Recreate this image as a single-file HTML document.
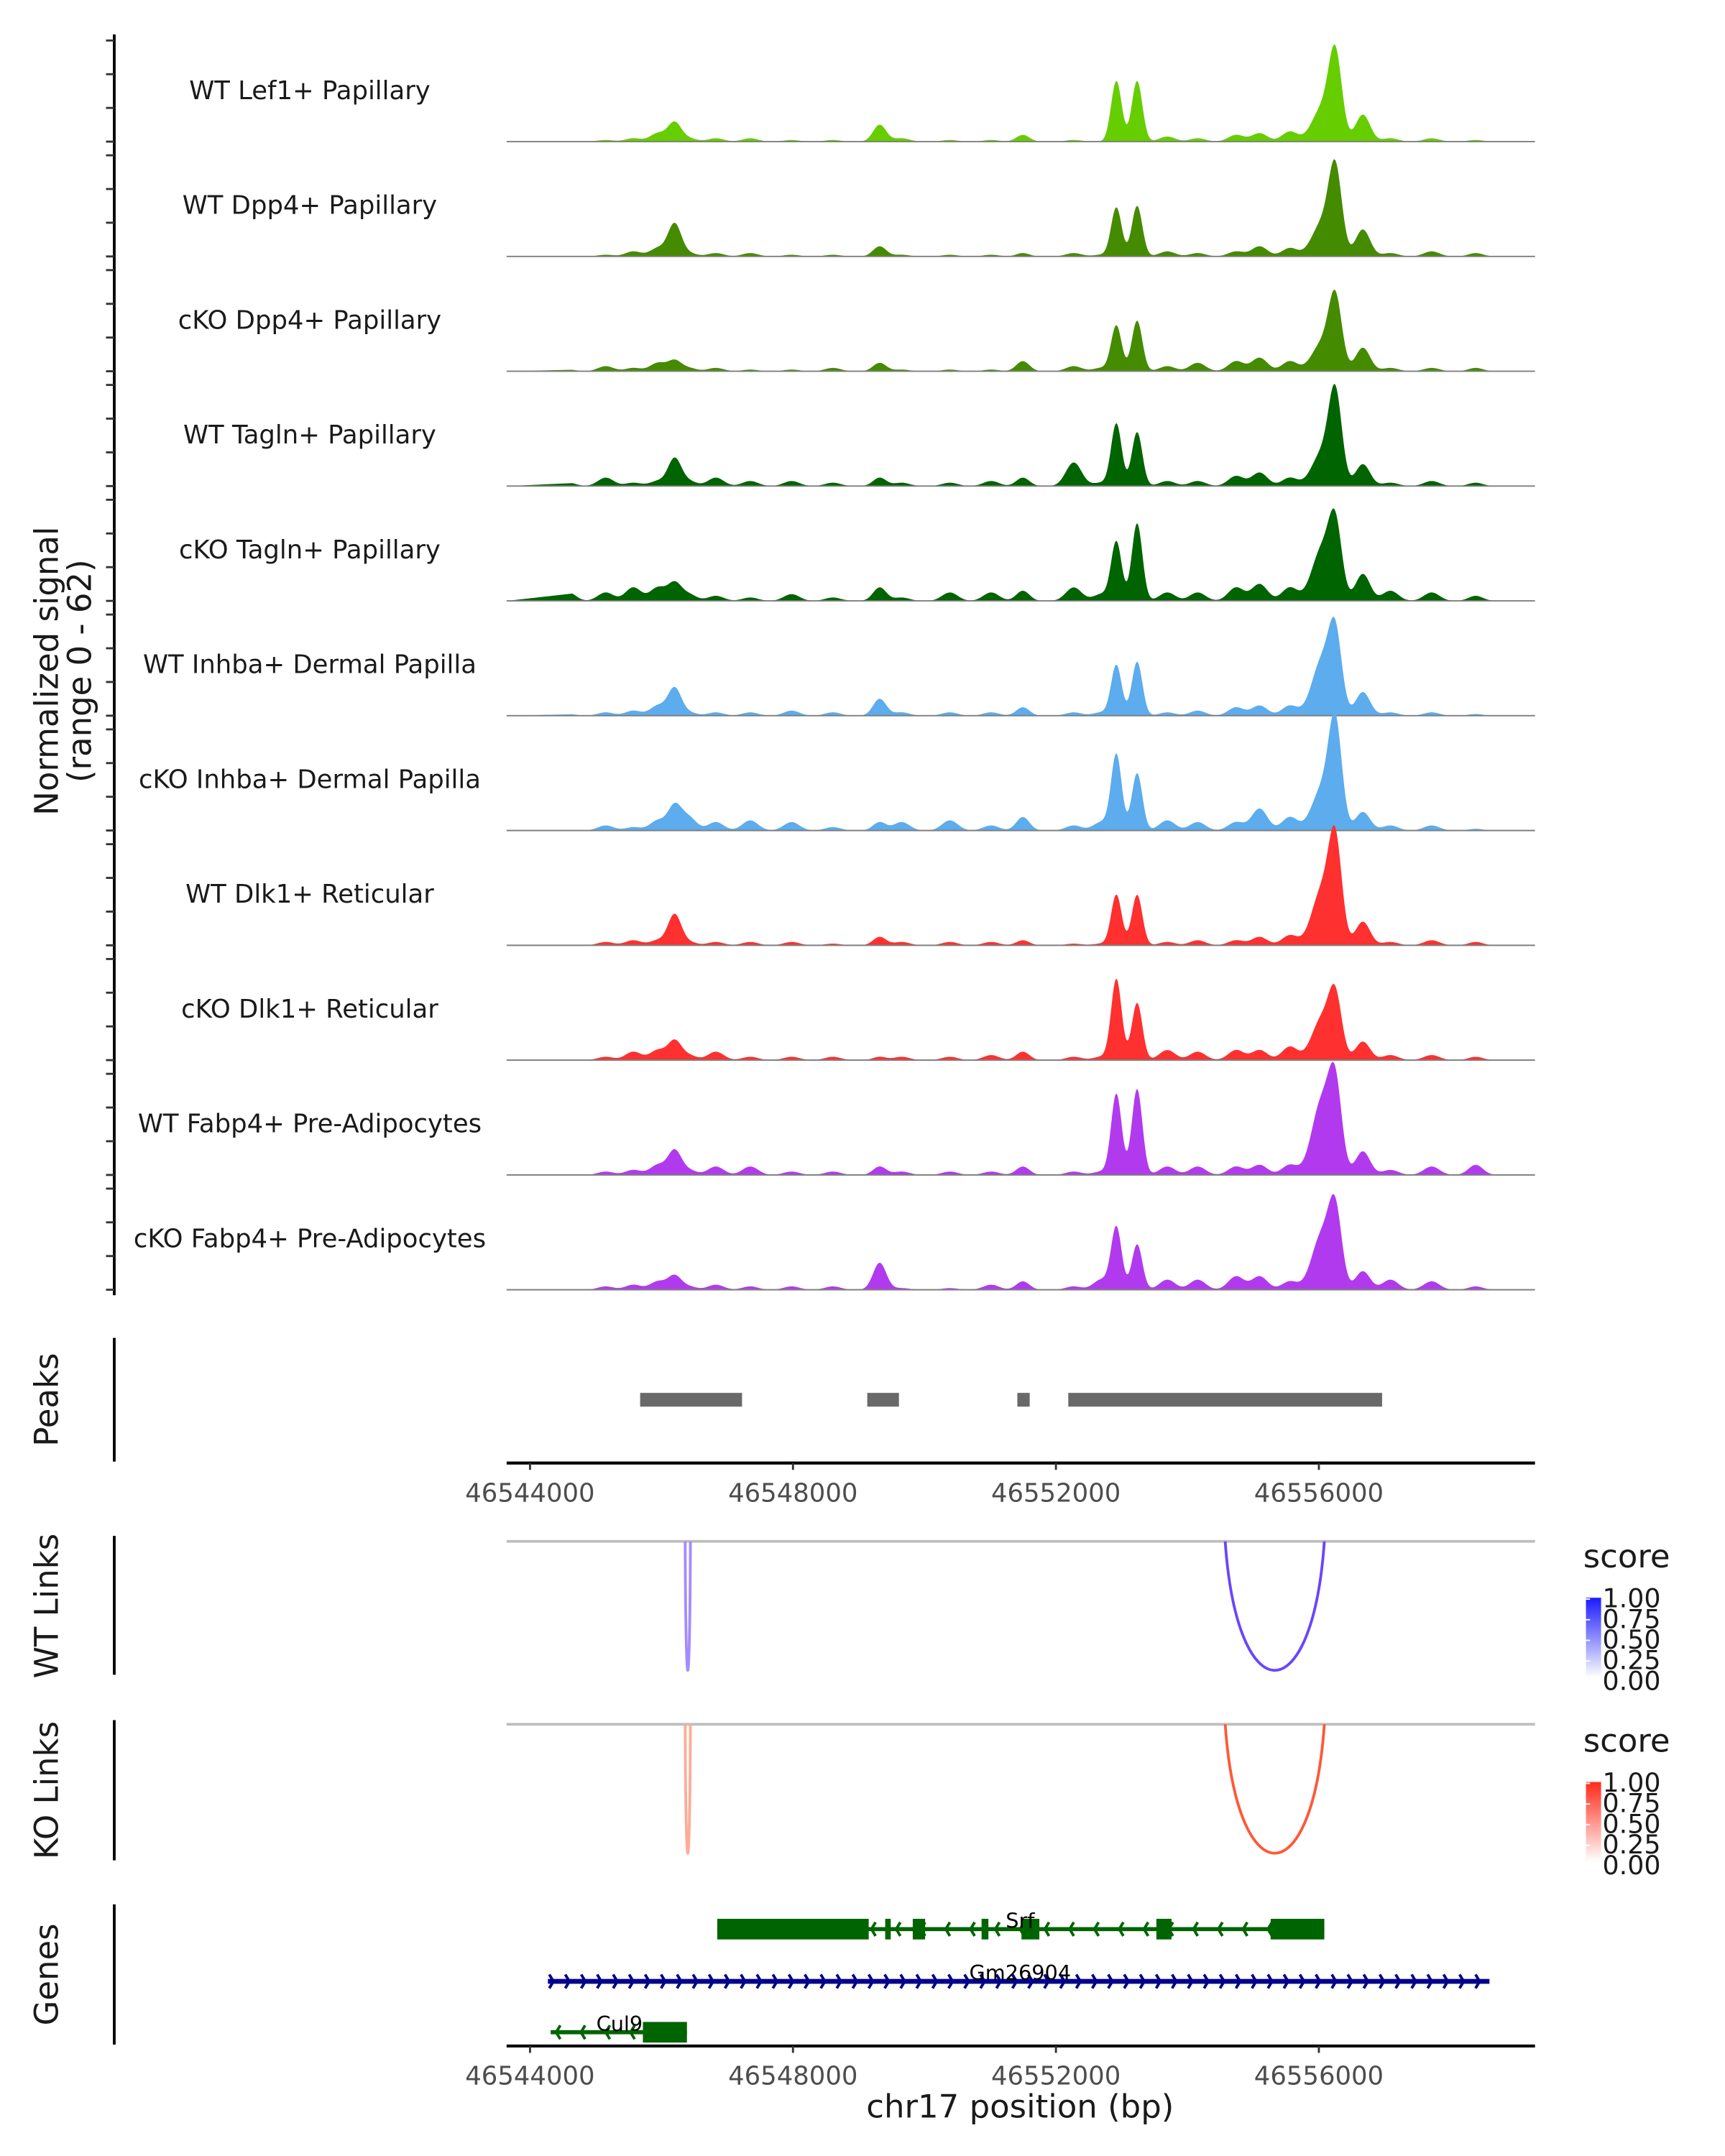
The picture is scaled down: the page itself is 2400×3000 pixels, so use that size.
<!DOCTYPE html>
<html><head><meta charset="utf-8"><style>
html,body{margin:0;padding:0;background:#fff;width:2400px;height:3000px;overflow:hidden}
svg{display:block}
text{font-family:"DejaVu Sans","Liberation Sans",sans-serif}
</style></head><body>
<svg id="fig" width="2400" height="3000" viewBox="0 0 1253 1568" preserveAspectRatio="none" xmlns="http://www.w3.org/2000/svg"></svg>
<script>
// ---- data ----
const trackNames = ["WT Lef1+ Papillary","WT Dpp4+ Papillary","cKO Dpp4+ Papillary","WT Tagln+ Papillary","cKO Tagln+ Papillary","WT Inhba+ Dermal Papilla","cKO Inhba+ Dermal Papilla","WT Dlk1+ Reticular","cKO Dlk1+ Reticular","WT Fabp4+ Pre-Adipocytes","cKO Fabp4+ Pre-Adipocytes"];
const trackColors = ["#66cd00","#458b00","#458b00","#006400","#006400","#5cacee","#5cacee","#ff3030","#ff3030","#b23aee","#b23aee"];
const peakCenters = [46544586,46545152,46545571,46545947,46546199,46546408,46546827,46547350,46547979,46548607,46549319,46549654,46550387,46551015,46551497,46552271,46552690,46552920,46553235,46553695,46554156,46554742,46555098,46555559,46556041,46556250,46556669,46557088,46557716,46558386];
const peakWidths = [110,120,120,120,100,120,120,120,120,120,100,120,120,120,100,120,120,80,80,120,120,120,120,120,150,100,110,120,120,110];
const sig1 = [0,1,2,5,11,2,2,2,1,1,10,2,1,1,4,1,0,36,36,3,2,4,5,6,19,50,16,2,2,1];
const sig2 = [0,1,3,5,19,2,2,2,1,1,6,1,1,1,2,2,1,29,30,3,2,3,6,5,19,50,16,2,3,2];
const sig3 = [1,3,2,5,6,2,2,1,1,2,5,1,1,1,6,3,2,27,30,3,5,6,8,6,16,42,14,2,2,2];
const sig4 = [2,5,2,3,16,3,5,3,3,2,5,2,2,3,5,14,2,37,32,3,3,6,8,5,19,53,13,2,3,2];
const sig5 = [5,5,8,8,10,4,3,2,4,2,8,2,5,5,6,8,4,35,46,5,5,8,10,8,30,42,16,6,5,3];
const sig6 = [1,2,3,6,16,2,2,2,3,2,10,2,2,2,5,2,2,30,32,2,3,5,6,6,32,45,14,2,2,1];
const sig7 = [0,3,2,6,14,8,5,6,5,2,5,5,6,3,8,3,5,45,34,6,5,5,13,8,24,61,11,3,3,1];
const sig8 = [0,2,3,3,18,2,2,2,2,1,5,2,2,2,3,1,1,30,30,2,3,3,5,6,32,58,14,2,3,2];
const sig9 = [0,2,5,6,11,3,5,2,2,2,2,2,2,3,5,2,2,48,34,6,5,6,6,8,24,35,11,3,3,2];
const sig10 = [0,2,3,6,14,3,5,5,2,2,5,2,2,2,5,2,2,48,51,5,5,5,6,6,43,48,14,3,5,6];
const sig11 = [0,2,3,5,8,2,3,2,2,2,16,1,1,3,5,2,6,37,27,6,6,8,8,5,32,43,11,6,5,2];
const signals = [sig1,sig2,sig3,sig4,sig5,sig6,sig7,sig8,sig9,sig10,sig11];
const xTicks = [46544000,46548000,46552000,46556000];
const peakStarts = [46545675,46549130,46551413,46552188];
const peakEnds = [46547225,46549612,46551601,46556962];
const wtLinkStarts = [46546360,46554575];
const wtLinkEnds = [46546440,46556083];
const wtLinkScores = [0.55,0.8];
const koLinkStarts = [46546360,46554575];
const koLinkEnds = [46546440,46556083];
const koLinkScores = [0.45,0.8];
const legendTicks = ["1.00","0.75","0.50","0.25","0.00"];
const geneNames = ["Srf","Gm26904","Cul9"];
const geneStarts = [46546848,46544272,46544314];
const geneEnds = [46556083,46558595,46546387];
const geneStrands = [-1,1,-1];
const srfExons = [[46546848,46549152],[46549403,46549487],[46549822,46550010],[46550869,46550973],[46551476,46551748],[46553528,46553758],[46555266,46556083]];
const cul9Exons = [[46545717,46546387]];
const gmExons = [];

// ---- scales ----
const X0 = 368, X1 = 1115, BP0 = 46543644, BP1 = 46559288;
const xs = bp => X0 + (bp - BP0) / (BP1 - BP0) * (X1 - X0);
const YMAX = 62, TRACK_H = 76;
const ys = (v, base) => base - v / YMAX * TRACK_H;
const svg = document.getElementById('fig');
const NS = 'http://www.w3.org/2000/svg';
function mk(tag, attrs, parent) {
  const e = document.createElementNS(NS, tag);
  for (const k in attrs) e.setAttribute(k, attrs[k]);
  (parent || svg).appendChild(e);
  return e;
}
function txt(str, attrs, parent) { const t = mk('text', attrs, parent); t.textContent = str; return t; }

// ---- coverage tracks ----
const base0 = 103, step = 83.5;
const leftAxis = mk('line', {x1:83,y1:25,x2:83,y2:942,stroke:'#000','stroke-width':2});


signals.forEach((vals, i) => {
  const base = base0 + i * step;
  const g = mk('g', {});
  
  
  for (let t = 0; t <= 60; t += 20) {
    const ty = ys(t, base);
    const tk = mk('line', {x1:77,y1:ty,x2:83,y2:ty,stroke:'#333','stroke-width':1.5}, g);
    
    
  }
  let d = 'M' + X0 + ',' + base;
  for (let bp = BP0 + 1000; bp <= BP1 - 500; bp += 15) {
    let v = 0;
    for (let k = 0; k < peakCenters.length; k++) {
      const z = (bp - peakCenters[k]) / peakWidths[k];
      if (Math.abs(z) < 5) v += vals[k] * Math.exp(-0.5 * z * z);
    }
    d += 'L' + xs(bp).toFixed(2) + ',' + ys(v, base).toFixed(2);
  }
  d += 'L' + X1 + ',' + base + 'Z';
  const area = mk('path', {d:d, fill:trackColors[i]}, g);
  
  
  const bl = mk('line', {x1:X0,y1:base,x2:X1,y2:base,stroke:'#7f7f7f','stroke-width':1}, g);
  
  
  const lab = txt(trackNames[i], {x:225,y:base-31,'text-anchor':'middle','font-size':18.5,fill:'#1a1a1a'}, g);
  
  
});
const yt = mk('text', {transform:'translate(42,488) rotate(-90)','text-anchor':'middle','font-size':23.5,fill:'#1a1a1a'});


mk('tspan', {x:0,dy:0}, yt).textContent = 'Normalized signal';
mk('tspan', {x:0,dy:24}, yt).textContent = '(range 0 - 62)';

// ---- panel helpers ----
function sideLabel(str, y, y1, y2, name) {
  const a = mk('line', {x1:83,y1:y1,x2:83,y2:y2,stroke:'#000','stroke-width':2});
  
  
  const t = txt(str, {transform:'translate(42,' + y + ') rotate(-90)','text-anchor':'middle','font-size':23.5,fill:'#1a1a1a'});
  
  
}
function xAxis(y, name) {
  const l = mk('line', {x1:X0,y1:y,x2:X1,y2:y,stroke:'#000','stroke-width':2.2});
  
  
  xTicks.forEach(t => {
    const tk = mk('line', {x1:xs(t),y1:y,x2:xs(t),y2:y+5,stroke:'#333','stroke-width':1.5});
    
    
    const lb = txt(String(t), {x:xs(t),y:y+28,'text-anchor':'middle','font-size':18.5,fill:'#4d4d4d'});
    
    
  });
}

// ---- peaks ----
sideLabel('Peaks', 1018, 973, 1063, 'peaks');
peakStarts.forEach((s, i) => {
  const r = mk('rect', {x:xs(s),y:1013,width:xs(peakEnds[i])-xs(s),height:10,fill:'#696969'});
  
  
});
xAxis(1064, 'peaks-x-axis');

// ---- links ----
function linksPanel(base, starts, ends, scores, colors, name) {
  const bl = mk('line', {x1:X0,y1:base,x2:X1,y2:base,stroke:'#bebebe','stroke-width':2});
  
  
  starts.forEach((s, i) => {
    const a = xs(s), b = xs(ends[i]), depth = 94;
    const p = mk('path', {d:'M' + a + ',' + base + ' C' + (a + (b-a)*0.12) + ',' + (base + depth*1.33) + ' ' + (b - (b-a)*0.12) + ',' + (base + depth*1.33) + ' ' + b + ',' + base, fill:'none', stroke:colors[i], 'stroke-width':2});
    
    
  });
}
sideLabel('WT Links', 1168, 1117, 1218, 'wt-links');
linksPanel(1121, wtLinkStarts, wtLinkEnds, wtLinkScores, ['#a48bff','#6a45ff'], 'wt-link');
sideLabel('KO Links', 1302, 1251, 1353, 'ko-links');
linksPanel(1254, koLinkStarts, koLinkEnds, koLinkScores, ['#ffab98','#ff5838'], 'ko-link');

function legend(y, c1, name) {
  const g = mk('g', {});
  
  
  txt('score', {x:1150,y:y,'font-size':23.5,fill:'#1a1a1a'}, g);
  const gid = 'grad-' + name;
  const defs = mk('defs', {}, g);
  const lg = mk('linearGradient', {id:gid,x1:0,y1:1,x2:0,y2:0}, defs);
  mk('stop', {offset:0,'stop-color':'#ffffff'}, lg);
  mk('stop', {offset:1,'stop-color':c1}, lg);
  mk('rect', {x:1152,y:y+22,width:11,height:58,fill:'url(#' + gid + ')'}, g);
  legendTicks.forEach((t, i) => {
    const ty = y + 23 + i * 15;
    mk('line', {x1:1152,y1:ty,x2:1155,y2:ty,stroke:'#fff','stroke-width':1}, g);
    txt(t, {x:1164,y:ty+6,'font-size':19,fill:'#1a1a1a'}, g);
  });
}
legend(1140, '#1a1aff', 'wt-score-legend');
legend(1274, '#ff2a1a', 'ko-score-legend');

// ---- genes ----
sideLabel('Genes', 1436, 1385, 1487, 'genes');
function gene(i, y, color, exons, lw) {
  const g = mk('g', {});
  
  
  const a = xs(geneStarts[i]), b = xs(geneEnds[i]);
  mk('line', {x1:a,y1:y,x2:b,y2:y,stroke:color,'stroke-width':lw}, g);
  const dir = geneStrands[i];
  const sp = dir > 0 ? 11.6 : 18;
  for (let x = a + 4; x <= b; x += sp) {
    const p = dir > 0 ? 'M' + (x-3) + ',' + (y-5) + ' L' + x + ',' + y + ' L' + (x-3) + ',' + (y+5)
                      : 'M' + (x+3) + ',' + (y-5) + ' L' + x + ',' + y + ' L' + (x+3) + ',' + (y+5);
    mk('path', {d:p,fill:'none',stroke:color,'stroke-width':2}, g);
  }
  exons.forEach(e => mk('rect', {x:xs(e[0]),y:y-7.5,width:xs(e[1])-xs(e[0]),height:15,fill:color}, g));
  return g;
}
gene(0, 1403, '#006400', srfExons, 3);
gene(1, 1441, '#00008b', gmExons, 3.5);
gene(2, 1478, '#006400', cul9Exons, 3);
const gl1 = txt('Srf', {x:741,y:1402,'text-anchor':'middle','font-size':15,fill:'#000'});


const gl2 = txt('Gm26904', {x:741,y:1440,'text-anchor':'middle','font-size':15,fill:'#000'});


const gl3 = txt('Cul9', {x:450,y:1477,'text-anchor':'middle','font-size':15,fill:'#000'});


xAxis(1488, 'genes-x-axis');
const xt = txt('chr17 position (bp)', {x:741,y:1540,'text-anchor':'middle','font-size':23.5,fill:'#1a1a1a'});


</script>
</body></html>
